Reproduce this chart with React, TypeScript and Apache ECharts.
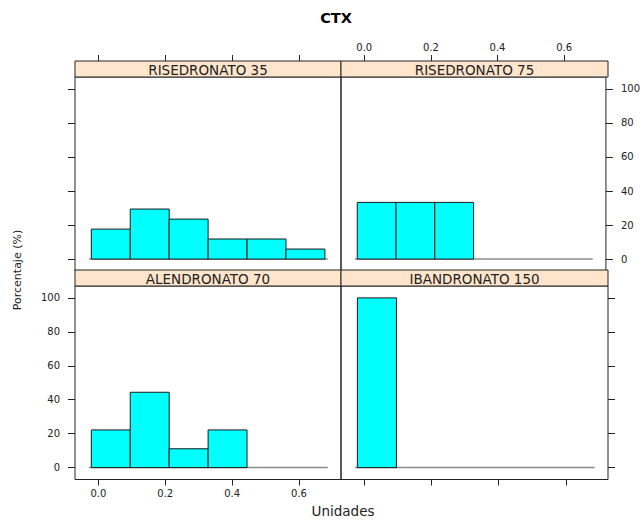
import React, { useEffect, useRef } from "react";
import * as echarts from "echarts";

// ---- data ----
const binEdges = [-0.021, 0.0954, 0.2118, 0.3282, 0.4446, 0.561, 0.6774];
const panelNames = ["RISEDRONATO 35", "RISEDRONATO 75", "ALENDRONATO 70", "IBANDRONATO 150"];
const risedronato35 = [17.6, 29.4, 23.5, 11.8, 11.8, 5.9];
const risedronato75 = [33.3, 33.3, 33.3, 0, 0, 0];
const alendronato70 = [22.2, 44.4, 11.1, 22.2, 0, 0];
const ibandronato150 = [100, 0, 0, 0, 0, 0];
const panelValues = [risedronato35, risedronato75, alendronato70, ibandronato150];
const xTicks = [0, 0.2, 0.4, 0.6];
const yTicks = [0, 20, 40, 60, 80, 100];
const refLineX = [-0.028, 0.686];
const xRange = [-0.0698, 0.7256];
const yRange = [-7, 107];

const FONT = "DejaVu Sans";
const INK = "#222";

export default function App() {
  const ref = useRef<HTMLDivElement>(null);
  useEffect(() => {
    if (!ref.current) return;
    const chart = echarts.init(ref.current, null, { renderer: "svg" });

    const grids = [
      { left: 75, top: 77, width: 266, height: 194 },
      { left: 341, top: 77, width: 267, height: 194 },
      { left: 75, top: 286, width: 266, height: 193.5 },
      { left: 341, top: 286, width: 267, height: 193.5 },
    ];
    const stripH = 16;

    const xAxis = grids.map((g, i) => ({
      type: "value",
      gridIndex: i,
      min: xRange[0],
      max: xRange[1],
      position: i < 2 ? "top" : "bottom",
      offset: i < 2 ? stripH : 0,
      axisLine: { show: false, onZero: false },
      splitLine: { show: false },
      axisTick: {
        show: true,
        customValues: xTicks,
        length: 6,
        lineStyle: { color: INK, width: 1 },
      },
      axisLabel: {
        show: i === 1 || i === 2,
        customValues: xTicks,
        formatter: (v: number) => v.toFixed(1),
        margin: 9,
        fontFamily: FONT,
        fontSize: 10,
        color: INK,
      },
    }));

    const yAxis = grids.map((g, i) => ({
      type: "value",
      gridIndex: i,
      min: yRange[0],
      max: yRange[1],
      position: i === 0 || i === 2 ? "left" : "right",
      axisLine: { show: false, onZero: false },
      splitLine: { show: false },
      axisTick: {
        show: true,
        customValues: yTicks,
        length: 7,
        lineStyle: { color: INK, width: 1 },
      },
      axisLabel: {
        show: i === 1 || i === 2,
        customValues: yTicks,
        margin: 15,
        fontFamily: FONT,
        fontSize: 10,
        color: INK,
      },
    }));

    const series: any[] = [];
    panelValues.forEach((vals, i) => {
      series.push({
        type: "line",
        xAxisIndex: i,
        yAxisIndex: i,
        data: [
          [refLineX[0], 0],
          [refLineX[1], 0],
        ],
        showSymbol: false,
        silent: true,
        lineStyle: { color: "#8c8c8c", width: 1.5 },
        z: 1,
      });
      const rows = vals
        .map((v, k) => [binEdges[k], binEdges[k + 1], v])
        .filter((r) => r[2] > 0);
      series.push({
        type: "custom",
        xAxisIndex: i,
        yAxisIndex: i,
        data: rows,
        encode: { x: [0, 1], y: 2 },
        z: 2,
        renderItem: (params: any, api: any) => {
          const p0 = api.coord([api.value(0), api.value(2)]);
          const p1 = api.coord([api.value(1), 0]);
          return {
            type: "rect",
            shape: { x: p0[0], y: p0[1], width: p1[0] - p0[0], height: p1[1] - p0[1] },
            style: { fill: "#00FFFF", stroke: "#1a1a1a", lineWidth: 1 },
          };
        },
      });
    });

    const graphic: any[] = [];
    grids.forEach((g, i) => {
      const y = g.top - stripH;
      graphic.push({
        type: "rect",
        shape: { x: g.left, y, width: g.width, height: stripH },
        style: { fill: "#FFE5CC", stroke: INK, lineWidth: 1 },
        z: 5,
      });
      graphic.push({
        type: "text",
        x: g.left + g.width / 2,
        y: y + stripH / 2 + 0.5,
        style: {
          text: panelNames[i],
          font: `13.5px "${FONT}"`,
          fill: INK,
          textAlign: "center",
          textVerticalAlign: "middle",
        },
        z: 6,
      });
    });
    graphic.push({
      type: "text",
      x: 336,
      y: 18,
      style: {
        text: "CTX",
        font: `bold 14.5px "${FONT}"`,
        fill: "#000",
        textAlign: "center",
        textVerticalAlign: "middle",
      },
    });
    graphic.push({
      type: "text",
      x: 343,
      y: 511,
      style: {
        text: "Unidades",
        font: `13.5px "${FONT}"`,
        fill: INK,
        textAlign: "center",
        textVerticalAlign: "middle",
      },
    });
    graphic.push({
      type: "text",
      x: 17.5,
      y: 270,
      rotation: Math.PI / 2,
      style: {
        text: "Porcentaje (%)",
        font: `11px "${FONT}"`,
        fill: INK,
        textAlign: "center",
        textVerticalAlign: "middle",
      },
    });

    chart.setOption({
      animation: false,
      backgroundColor: "#fff",
      grid: grids.map((g) => ({
        ...g,
        show: true,
        borderColor: INK,
        borderWidth: 1,
        backgroundColor: "transparent",
        containLabel: false,
      })),
      xAxis,
      yAxis,
      series,
      graphic,
    });
    return () => chart.dispose();
  }, []);
  return (
    <div
      ref={ref}
      style={{ position: "absolute", left: 0, top: 0, width: 643, height: 520 }}
    />
  );
}
